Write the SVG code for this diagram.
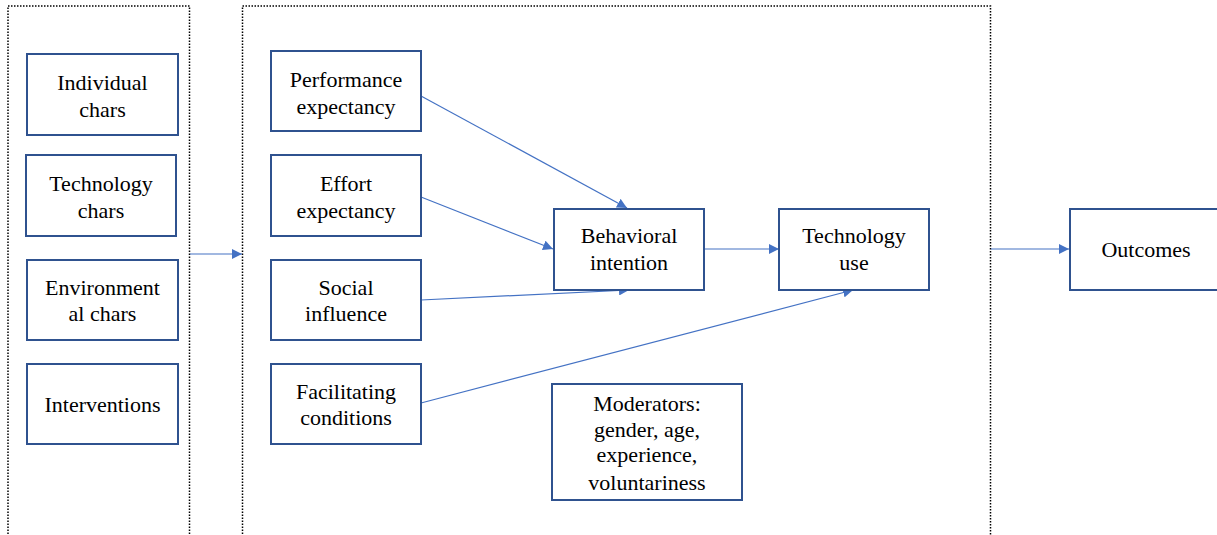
<svg xmlns="http://www.w3.org/2000/svg" width="1217" height="535" viewBox="0 0 1217 535">
<style>
.box{fill:#fff;stroke:#2F528F;stroke-width:2}
.grp{fill:none;stroke:#000;stroke-width:1.5;stroke-dasharray:1.5 1.5}
.conn{stroke:#4472C4;stroke-width:1.2;fill:none;marker-end:url(#ah)}
text{font-family:"Liberation Serif","Times New Roman",serif;font-size:22px;fill:#000;text-anchor:middle}
</style>
<defs>
<marker id="ah" viewBox="0 0 10 10" refX="10" refY="5" markerWidth="10" markerHeight="10" markerUnits="userSpaceOnUse" orient="auto">
<path d="M0,0 L10,5 L0,10 Z" fill="#4472C4"/>
</marker>
</defs>
<rect width="1217" height="535" fill="#fff"/>
<g id="groups">
<path class="grp" d="M8,540 V6 H189.5 V540"/>
<path class="grp" d="M242.5,540 V6 H990.5 V540"/>
</g>
<g id="connectors">
<line class="conn" x1="190" y1="254" x2="242" y2="254"/>
<line class="conn" x1="421" y1="96" x2="627" y2="208"/>
<line class="conn" x1="421" y1="197" x2="553" y2="249"/>
<line class="conn" x1="421" y1="300" x2="629" y2="290"/>
<line class="conn" x1="421" y1="403" x2="853" y2="290"/>
<line class="conn" x1="704" y1="249" x2="779" y2="249"/>
<line class="conn" x1="991" y1="249" x2="1069" y2="249"/>
</g>
<g id="individual"><rect class="box" x="27" y="54" width="151" height="81"/><text x="102.5" y="90">Individual</text><text x="102.5" y="117">chars</text></g>
<g id="technology"><rect class="box" x="26" y="155" width="150" height="81"/><text x="101" y="191">Technology</text><text x="101" y="218">chars</text></g>
<g id="environmental"><rect class="box" x="27" y="260" width="151" height="80"/><text x="102.5" y="295">Environment</text><text x="102.5" y="321">al chars</text></g>
<g id="interventions"><rect class="box" x="27" y="364" width="151" height="80"/><text x="102.5" y="412">Interventions</text></g>
<g id="performance"><rect class="box" x="271" y="51" width="150" height="80"/><text x="346" y="87">Performance</text><text x="346" y="114">expectancy</text></g>
<g id="effort"><rect class="box" x="271" y="155" width="150" height="81"/><text x="346" y="191">Effort</text><text x="346" y="218">expectancy</text></g>
<g id="social"><rect class="box" x="271" y="260" width="150" height="80"/><text x="346" y="295">Social</text><text x="346" y="321">influence</text></g>
<g id="facilitating"><rect class="box" x="271" y="364" width="150" height="80"/><text x="346" y="399">Facilitating</text><text x="346" y="425">conditions</text></g>
<g id="behavioral"><rect class="box" x="554" y="209" width="150" height="81"/><text x="629" y="243">Behavioral</text><text x="629" y="270">intention</text></g>
<g id="techuse"><rect class="box" x="779" y="209" width="150" height="81"/><text x="854" y="243">Technology</text><text x="854" y="270">use</text></g>
<g id="outcomes"><rect class="box" x="1070" y="209" width="160" height="81"/><text x="1146" y="257">Outcomes</text></g>
<g id="moderators"><rect class="box" x="552" y="384" width="190" height="116"/><text x="647" y="411">Moderators:</text><text x="647" y="437">gender, age,</text><text x="647" y="462">experience,</text><text x="647" y="490">voluntariness</text></g>
</svg>
